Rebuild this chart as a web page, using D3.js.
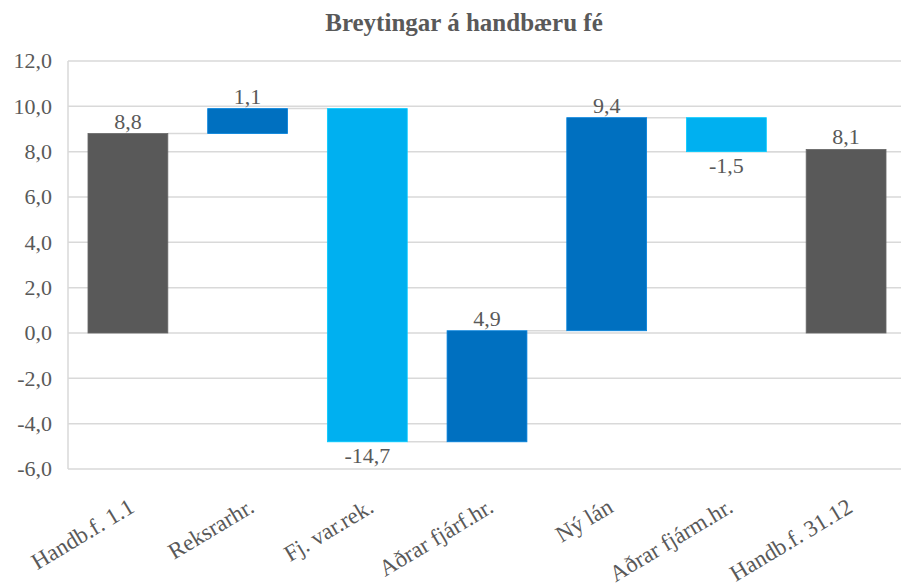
<!DOCTYPE html>
<html>
<head>
<meta charset="utf-8">
<script src="https://cdn.jsdelivr.net/npm/d3@7"></script>
<style>
  body { margin: 0; background: #fff; }
  text { font-family: "Liberation Serif", "DejaVu Serif", serif; }
</style>
</head>
<body>
<script>
// Waterfall data
const categories = ["Handb.f. 1.1", "Reksrarhr.", "Fj. var.rek.", "Aðrar fjárf.hr.", "Ný lán", "Aðrar fjárm.hr.", "Handb.f. 31.12"];
const changes = [8.8, 1.1, -14.7, 4.9, 9.4, -1.5, 8.1];
const kinds = ["total", "step", "step", "step", "step", "step", "total"];
const yTicks = [-6, -4, -2, 0, 2, 4, 6, 8, 10, 12];

const width = 901, height = 587;
const margin = { top: 61, right: -5, bottom: 118, left: 68 };

const colors = { total: "#595959", up: "#0070C0", down: "#00B0F0" };

const svg = d3.select("body").append("svg")
  .attr("width", width)
  .attr("height", height);

const x = d3.scaleBand()
  .domain(categories)
  .range([margin.left, width - margin.right])
  .paddingInner(0.333)
  .paddingOuter(0.167);

const y = d3.scaleLinear()
  .domain([-6, 12])
  .range([height - margin.bottom, margin.top]);

const fmt = v => d3.format(".1f")(v).replace(".", ",").replace("−", "-");

// build running totals
let running = 0;
const bars = categories.map((c, i) => {
  let lo, hi, type;
  if (kinds[i] === "total") {
    lo = 0; hi = changes[i]; type = "total";
    running = changes[i];
  } else {
    const start = running;
    running = +(running + changes[i]).toFixed(2);
    lo = Math.min(start, running); hi = Math.max(start, running);
    type = changes[i] >= 0 ? "up" : "down";
  }
  return { cat: c, value: changes[i], lo, hi, end: running, type };
});

// title
svg.append("text")
  .attr("x", 464).attr("y", 31)
  .attr("text-anchor", "middle")
  .attr("font-size", 25)
  .attr("font-weight", "bold")
  .attr("fill", "#595959")
  .text("Breytingar á handbæru fé");

// gridlines
svg.append("g")
  .selectAll("line")
  .data(yTicks)
  .join("line")
  .attr("x1", margin.left).attr("x2", width)
  .attr("y1", d => y(d)).attr("y2", d => y(d))
  .attr("stroke", "#d9d9d9").attr("stroke-width", 1.5);

// left axis line
svg.append("line")
  .attr("x1", margin.left).attr("x2", margin.left)
  .attr("y1", y(12)).attr("y2", y(-6))
  .attr("stroke", "#d9d9d9").attr("stroke-width", 1.5);

// y tick labels
svg.append("g")
  .selectAll("text")
  .data(yTicks)
  .join("text")
  .attr("x", 52)
  .attr("y", d => y(d))
  .attr("dy", "0.33em")
  .attr("text-anchor", "end")
  .attr("font-size", 22)
  .attr("fill", "#595959")
  .text(d => fmt(d));

// connectors
svg.append("g")
  .selectAll("line")
  .data(bars.slice(0, -1))
  .join("line")
  .attr("x1", d => x(d.cat) + x.bandwidth())
  .attr("x2", (d, i) => x(categories[i + 1]))
  .attr("y1", d => y(d.end)).attr("y2", d => y(d.end))
  .attr("stroke", "#d9d9d9").attr("stroke-width", 1.5);

// bars
svg.append("g")
  .selectAll("rect")
  .data(bars)
  .join("rect")
  .attr("x", d => x(d.cat))
  .attr("width", x.bandwidth())
  .attr("y", d => y(d.hi))
  .attr("height", d => y(d.lo) - y(d.hi))
  .attr("fill", d => colors[d.type])
  .attr("stroke", d => d3.color(colors[d.type]).brighter(0.4))
  .attr("stroke-width", 0.8);

// value labels
svg.append("g")
  .selectAll("text")
  .data(bars)
  .join("text")
  .attr("x", d => x(d.cat) + x.bandwidth() / 2)
  .attr("y", d => d.type === "down" ? y(d.lo) + 21 : y(d.hi) - 5)
  .attr("text-anchor", "middle")
  .attr("font-size", 22)
  .attr("fill", "#595959")
  .text(d => fmt(d.value));

// x labels
svg.append("g")
  .selectAll("text")
  .data(categories)
  .join("text")
  .attr("transform", d => `translate(${x(d) + x.bandwidth() / 2 + 8},${y(-6) + 42}) rotate(-31)`)
  .attr("text-anchor", "end")
  .attr("font-size", 23)
  .attr("fill", "#595959")
  .text(d => d);
</script>
</body>
</html>
